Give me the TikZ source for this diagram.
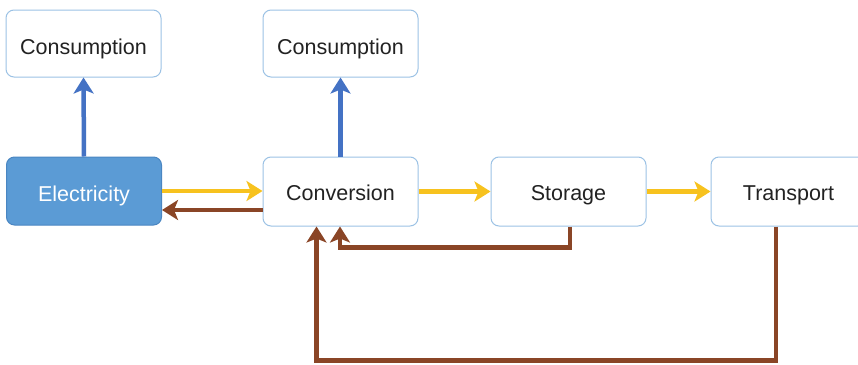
\documentclass[tikz,border=0pt]{standalone}
\usepackage{fontspec}
\setmainfont{Liberation Sans}
\usetikzlibrary{arrows.meta}
\definecolor{boxline}{HTML}{9CC2E5}
\definecolor{elecfill}{HTML}{5B9BD5}
\definecolor{elecline}{HTML}{4A86C2}
\definecolor{bluearr}{HTML}{4472C4}
\definecolor{yelarr}{HTML}{F7C21E}
\definecolor{brownarr}{HTML}{8A4526}
\definecolor{txt}{HTML}{222222}
\tikzset{
  box/.style={draw=boxline, line width=1pt, rounded corners=8pt, fill=white,
    minimum width=155pt, minimum height=67pt, inner sep=0pt,
    text height=18pt, text depth=0pt,
    font=\fontsize{21.5pt}{24pt}\selectfont, text=txt},
  lowtext/.style={text height=21.5pt},
  elecbox/.style={box, lowtext, fill=elecfill, draw=elecline, text=white},
  tip/.style={-{Stealth[length=16pt,width=20pt,inset=4pt]}},
  bluearrow/.style={tip, draw=bluearr, line width=4.5pt},
  yelarrow/.style={tip, draw=yelarr, line width=4.5pt},
  brownarrow/.style={tip, draw=brownarr, line width=4.5pt},
}
\begin{document}
\begin{tikzpicture}[x=1pt,y=-1pt]
  \clip (0,0) rectangle (858,364);
  \fill[white] (0,0) rectangle (858,364);
  % boxes
  \node[box, lowtext] (cons1) at (83.5,43.5) {Consumption};
  \node[box, lowtext] (cons2) at (340.5,43.5) {Consumption};
  \node[elecbox, minimum height=68pt] (elec) at (84,191) {Electricity};
  \node[box, minimum height=69pt] (conv) at (340.5,191.5) {Conversion};
  \node[box, minimum height=69pt] (stor) at (568.5,191.5) {Storage};
  \node[box, minimum height=69pt] (trans) at (788.5,191.5) {Transport};
  % consumption links
  \draw[bluearrow] (elec.north) -- (cons1.south);
  \draw[bluearrow] (conv.north) -- (cons2.south);
  % forward chain
  \draw[yelarrow] (elec.east) -- (elec.east -| conv.west);
  \draw[yelarrow] (conv.east) -- (conv.east -| stor.west);
  \draw[yelarrow] (stor.east) -- (stor.east -| trans.west);
  % return flows
  \draw[brownarrow] ([yshift=-18.5pt]conv.west) -- ([yshift=-18.5pt]conv.west -| elec.east);
  \draw[brownarrow] ([xshift=1.5pt]stor.south) -- ++(0,21) -| ([xshift=-0.5pt]conv.south);
  \draw[brownarrow] ([xshift=-12.5pt]trans.south) -- ++(0,134) -| ([xshift=-24pt]conv.south);
\end{tikzpicture}
\end{document}
